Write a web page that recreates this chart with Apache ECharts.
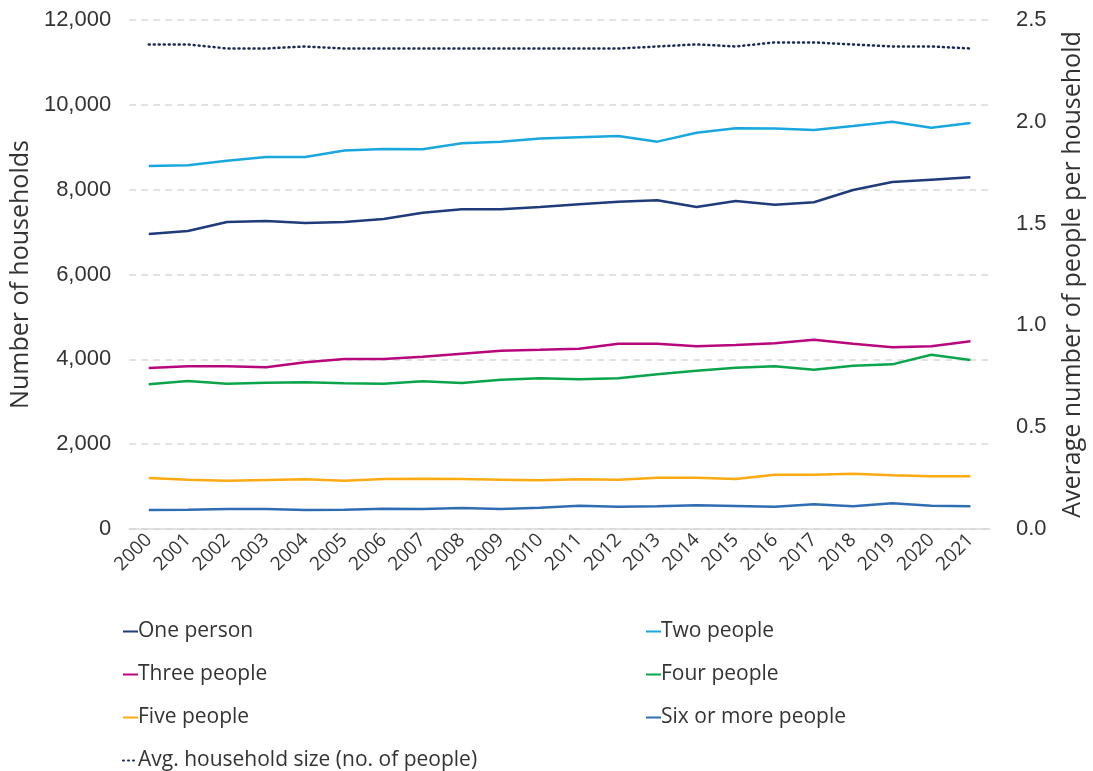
<!DOCTYPE html>
<html><head><meta charset="utf-8">
<script src="https://cdn.jsdelivr.net/npm/echarts@6/dist/echarts.min.js"></script>
<style>html,body{margin:0;padding:0;background:#fff}#c{width:1093px;height:771px}</style>
</head><body><div id="c"></div>
<script>
const years = ['2000','2001','2002','2003','2004','2005','2006','2007','2008','2009','2010','2011','2012','2013','2014','2015','2016','2017','2018','2019','2020','2021'];
const onePerson   = [6955,7025,7238,7261,7214,7238,7309,7455,7540,7540,7590,7655,7717,7749,7591,7733,7646,7702,7992,8181,8236,8291];
const twoPeople   = [8560,8578,8684,8770,8770,8925,8959,8955,9093,9130,9205,9235,9265,9132,9344,9447,9440,9407,9501,9603,9462,9570];
const threePeople = [3796,3835,3835,3812,3930,4008,4008,4063,4134,4204,4225,4251,4369,4369,4306,4338,4377,4463,4369,4283,4306,4424];
const fourPeople  = [3410,3489,3426,3450,3458,3434,3426,3481,3442,3520,3552,3528,3552,3646,3733,3803,3835,3756,3851,3882,4110,3984];
const fivePeople  = [1202,1163,1139,1155,1171,1139,1179,1186,1179,1163,1147,1171,1163,1210,1210,1179,1281,1281,1305,1265,1242,1242];
const sixPlus     = [448,456,472,472,448,456,480,472,495,472,500,550,527,534,558,542,527,581,534,605,550,534];
const avgSize     = [2.38,2.38,2.36,2.36,2.37,2.36,2.36,2.36,2.36,2.36,2.36,2.36,2.36,2.37,2.38,2.37,2.39,2.39,2.38,2.37,2.37,2.36];

const FONT = 'Open Sans';
const NUMFONT = 'Liberation Sans';
const TXT = '#333333';
const chart = echarts.init(document.getElementById('c'), null, {renderer:'canvas'});
function line(name, data, color, extra) {
  return Object.assign({
    name, type:'line', data, symbol:'none', smooth:false,
    lineStyle:{color, width:2.5}, itemStyle:{color}, animation:false
  }, extra||{});
}
const legendCommon = {
  orient:'vertical', top:616, height:200, itemWidth:15, itemHeight:14, itemGap:22,
  itemStyle:{opacity:0},
  textStyle:{fontSize:21, lineHeight:20, color:TXT, fontFamily:FONT, padding:[0,0,0,-5]}
};
chart.setOption({
  animation:false,
  textStyle:{fontFamily:FONT},
  grid:{left:128, right:94, top:20, bottom:242, containLabel:false},
  xAxis:{
    type:'category', data:years, boundaryGap:true,
    axisLine:{show:true, lineStyle:{color:'#d9d9d9', width:1.5}},
    axisTick:{show:false},
    axisLabel:{rotate:45, fontSize:19, color:TXT, fontFamily:FONT, margin:8, interval:0}
  },
  yAxis:[{
    type:'value', min:0, max:12000, interval:2000,
    name:'Number of households', nameLocation:'middle', nameGap:86,
    nameTextStyle:{fontSize:25, color:TXT, fontFamily:FONT},
    axisLine:{show:false}, axisTick:{show:false},
    axisLabel:{fontSize:22, color:TXT, fontFamily:NUMFONT, margin:18,
      formatter:v=>v.toLocaleString('en-US')},
    splitLine:{show:true, lineStyle:{color:'#d9d9d9', width:1.5, type:[7,5]}}
  },{
    type:'value', min:0, max:2.5, interval:0.5, position:'right',
    name:'Average number of people per household', nameLocation:'middle', nameGap:70,
    nameTextStyle:{fontSize:25, color:TXT, fontFamily:FONT},
    axisLine:{show:false}, axisTick:{show:false},
    axisLabel:{fontSize:22, color:TXT, fontFamily:NUMFONT, margin:26, formatter:v=>v.toFixed(1)},
    splitLine:{show:false}
  }],
  legend:[Object.assign({}, legendCommon, {
    left:117,
    data:['One person','Three people','Five people','Avg. household size (no. of people)']
  }), Object.assign({}, legendCommon, {
    left:640,
    data:['Two people','Four people','Six or more people']
  })],
  series:[
    line('One person', onePerson, '#1f3b7a'),
    line('Two people', twoPeople, '#1aa7dd'),
    line('Three people', threePeople, '#b8077c'),
    line('Four people', fourPeople, '#0aa54a'),
    line('Five people', fivePeople, '#fcaa12'),
    line('Six or more people', sixPlus, '#2f6db3'),
    line('Avg. household size (no. of people)', avgSize, '#1b2a52', {yAxisIndex:1, lineStyle:{color:'#1b2a52', width:2.5, type:[1,4], cap:'round'}})
  ]
});
</script></body></html>
